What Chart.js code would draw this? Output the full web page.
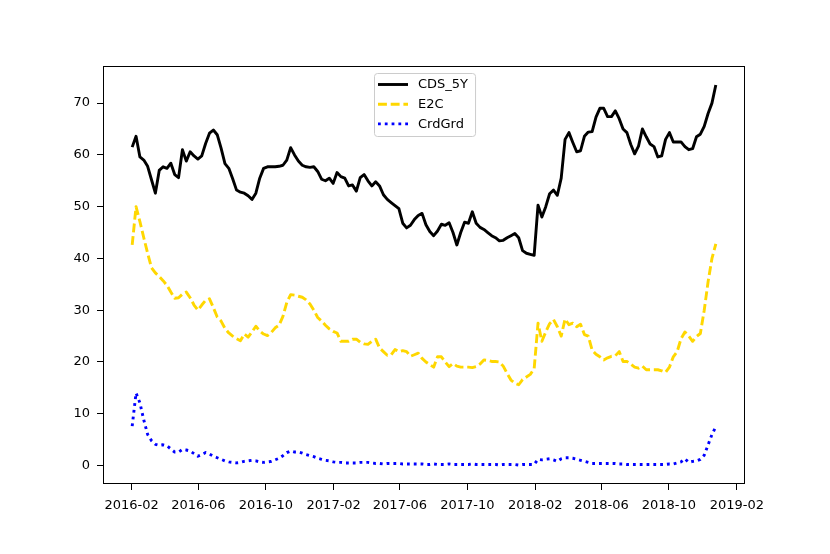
<!DOCTYPE html>
<html>
<head>
<meta charset="utf-8">
<script src="https://cdn.jsdelivr.net/npm/chart.js@4.4.1/dist/chart.umd.min.js"></script>
<style>
  html, body { margin: 0; padding: 0; background: #ffffff; }
  #chart { display: block; }
</style>
</head>
<body>
<canvas id="chart" width="830" height="554"></canvas>
<script>
// weekly observations, first one on 2016-02-02
const firstDate = "2016-02-02";
const stepDays = 7;

const cds5y = [
    61.5, 63.6, 59.6, 59.0, 57.8, 55.2, 52.6, 57.0, 57.7, 57.4,
    58.4, 56.2, 55.6, 61.0, 58.8, 60.6, 59.8, 59.2, 59.8, 62.2,
    64.2, 64.8, 63.9, 61.3, 58.3, 57.4, 55.4, 53.2, 52.8, 52.6,
    52.1, 51.4, 52.6, 55.5, 57.4, 57.7, 57.7, 57.7, 57.8, 58.0,
    59.0, 61.4, 60.0, 58.8, 58.0, 57.7, 57.6, 57.7, 56.8, 55.3,
    55.0, 55.5, 54.5, 56.6, 55.8, 55.5, 54.0, 54.2, 53.0, 55.6,
    56.2, 55.0, 54.0, 54.8, 54.0, 52.3, 51.4, 50.8, 50.2, 49.6,
    46.8, 45.9, 46.4, 47.5, 48.3, 48.7, 46.5, 45.2, 44.4, 45.3,
    46.6, 46.4, 46.9, 45.0, 42.6, 45.0, 47.0, 46.8, 49.0, 46.8,
    46.0, 45.6, 45.0, 44.4, 44.0, 43.4, 43.5, 44.0, 44.4, 44.8,
    44.0, 41.5, 41.0, 40.8, 40.6, 50.3, 48.0, 50.0, 52.5, 53.2,
    52.2, 55.5, 63.0, 64.3, 62.4, 60.6, 60.8, 63.6, 64.4, 64.5,
    67.3, 69.0, 69.0, 67.4, 67.4, 68.5, 67.0, 65.0, 64.3, 62.0,
    60.2, 61.7, 65.0, 63.5, 62.1, 61.6, 59.6, 59.8, 63.0, 64.3,
    62.5, 62.5, 62.5, 61.6, 61.0, 61.2, 63.5, 64.0, 65.5, 68.0,
    70.0, 73.5
];

const e2c = [
    42.6, 50.0, 47.1, 44.0, 41.0, 38.2, 37.2, 36.5, 35.7, 34.8,
    33.5, 32.3, 32.4, 33.1, 33.5, 32.4, 31.0, 30.0, 31.0, 31.9,
    32.2, 30.5, 28.7, 27.9, 26.5, 25.6, 25.0, 24.5, 24.1, 25.4,
    24.8, 25.8, 26.9, 26.0, 25.4, 25.1, 25.7, 26.6, 27.1, 28.8,
    31.5, 33.0, 32.9, 32.7, 32.5, 32.0, 31.2, 30.0, 28.6, 27.9,
    27.1, 26.4, 25.9, 25.6, 24.0, 24.0, 24.0, 24.4, 24.4, 23.8,
    23.5, 23.4, 24.0, 24.4, 22.7, 22.0, 21.3, 21.4, 22.4, 22.0,
    22.2, 22.0, 21.1, 21.4, 21.7, 20.7, 20.0, 19.5, 19.0, 21.0,
    21.0, 20.0, 19.1, 19.7, 19.2, 19.0, 19.0, 19.0, 18.9, 19.1,
    19.6, 20.4, 20.3, 20.1, 20.1, 20.0, 19.2, 17.8, 16.5, 15.9,
    15.6, 16.6, 17.1, 17.6, 18.7, 27.5, 24.0, 25.8, 27.4, 28.2,
    26.8, 25.0, 28.3, 27.2, 27.5, 26.8, 27.3, 25.3, 25.0, 22.3,
    21.5, 21.0, 20.4, 20.8, 21.1, 21.2, 22.0, 20.1, 20.1, 19.6,
    19.0, 18.8, 19.2, 18.5, 18.5, 18.5, 18.5, 18.3, 18.0, 19.0,
    21.0, 22.0, 24.5, 25.8, 25.0, 24.0, 24.9, 25.5, 30.0, 35.5,
    40.0, 42.8
];

const crdGrd = [
    7.6, 14.0, 12.1, 8.8, 6.0, 4.8, 4.1, 3.9, 4.0, 3.8,
    3.2, 2.6, 2.6, 3.1, 3.0, 2.8, 2.3, 1.8, 2.1, 2.5,
    2.2, 1.8, 1.5, 1.2, 0.9, 0.7, 0.6, 0.5, 0.6, 0.8,
    0.9, 1.0, 0.9, 0.7, 0.6, 0.7, 0.8, 1.1, 1.4, 1.9,
    2.5, 2.8, 2.6, 2.6, 2.4, 2.1, 1.9, 1.7, 1.4, 1.2,
    1.0, 0.9, 0.7, 0.6, 0.6, 0.5, 0.5, 0.5, 0.5, 0.6,
    0.6, 0.6, 0.5, 0.4, 0.4, 0.3, 0.4, 0.4, 0.4, 0.4,
    0.3, 0.3, 0.3, 0.3, 0.3, 0.3, 0.2, 0.2, 0.3, 0.2,
    0.2, 0.2, 0.3, 0.2, 0.2, 0.2, 0.2, 0.2, 0.3, 0.2,
    0.2, 0.2, 0.2, 0.2, 0.2, 0.1, 0.2, 0.2, 0.2, 0.2,
    0.1, 0.2, 0.2, 0.2, 0.2, 1.2, 1.1, 1.2, 1.3, 1.1,
    0.8, 1.3, 1.5, 1.5, 1.4, 1.2, 1.0, 0.8, 0.6, 0.4,
    0.4, 0.4, 0.4, 0.4, 0.4, 0.4, 0.3, 0.3, 0.2, 0.2,
    0.2, 0.2, 0.2, 0.2, 0.2, 0.2, 0.2, 0.2, 0.2, 0.3,
    0.3, 0.5, 0.7, 1.3, 0.6, 0.8, 0.9, 1.2, 2.0, 4.0,
    6.0, 7.5
];

const xTickLabels = ["2016-02", "2016-06", "2016-10", "2017-02", "2017-06",
                     "2017-10", "2018-02", "2018-06", "2018-10", "2019-02"];
const yTickValues = [0, 10, 20, 30, 40, 50, 60, 70];

// days since epoch, so the x axis can be a plain linear scale
const toDay = (s) => {
    const [y, m, d] = s.split("-").map(Number);
    return Date.UTC(y, m - 1, d || 1) / 86400000;
};

const day0 = toDay(firstDate);
const days = cds5y.map((_, i) => day0 + i * stepDays);
const points = (vals) => vals.map((v, i) => ({ x: days[i], y: v }));

// matplotlib style 5% margins
const xSpan = days[days.length - 1] - days[0];
const allVals = cds5y.concat(e2c, crdGrd);
const yLo = Math.min(...allVals), yHi = Math.max(...allVals);
const ySpan = yHi - yLo;

const FONT = "DejaVu Sans";
const FONT_SIZE = 13;
const LW = 2.9;

const spines = {
    id: "spines",
    afterDatasetsDraw(chart) {
        const { ctx, chartArea: a } = chart;
        ctx.save();
        ctx.strokeStyle = "#000";
        ctx.lineWidth = 1;
        ctx.strokeRect(Math.round(a.left) + 0.5, Math.round(a.top) + 0.5,
            Math.round(a.right - a.left) - 1, Math.round(a.bottom - a.top) - 1);
        ctx.restore();
    }
};

const insideLegend = {
    id: "insideLegend",
    afterDraw(chart) {
        const { ctx, chartArea: a } = chart;
        const sets = chart.data.datasets;
        ctx.save();
        ctx.font = FONT_SIZE + "px '" + FONT + "'";
        const textW = Math.max(...sets.map(s => ctx.measureText(s.label).width));
        const w = 4 + 30 + 10 + textW + 7;
        const h = 63;
        const x0 = Math.round((a.left + a.right) / 2 - w / 2) + 1;
        const y0 = Math.round(a.top) + 7;

        ctx.beginPath();
        ctx.roundRect(x0 + 0.5, y0 + 0.5, w, h, 3);
        ctx.fillStyle = "rgba(255,255,255,0.8)";
        ctx.fill();
        ctx.strokeStyle = "#cccccc";
        ctx.lineWidth = 1;
        ctx.stroke();

        sets.forEach((s, i) => {
            const cy = y0 + 11.5 + i * 19.7;
            ctx.beginPath();
            ctx.setLineDash(s.borderDash || []);
            ctx.lineCap = "butt";
            ctx.strokeStyle = s.borderColor;
            ctx.lineWidth = s.borderWidth;
            ctx.moveTo(x0 + 4, cy);
            ctx.lineTo(x0 + 34, cy);
            ctx.stroke();
            ctx.setLineDash([]);
            ctx.fillStyle = "#000";
            ctx.textBaseline = "middle";
            ctx.fillText(s.label, x0 + 44, cy + 0.5);
        });
        ctx.restore();
    }
};

new Chart(document.getElementById("chart"), {
    type: "line",
    data: {
        datasets: [
            {
                label: "CDS_5Y",
                data: points(cds5y),
                borderColor: "#000000",
                borderWidth: LW,
                borderJoinStyle: "round"
            },
            {
                label: "E2C",
                data: points(e2c),
                borderColor: "#FFD700",
                borderWidth: LW,
                borderDash: [8.9, 3.8],
                borderJoinStyle: "round"
            },
            {
                label: "CrdGrd",
                data: points(crdGrd),
                borderColor: "#0000FF",
                borderWidth: LW,
                borderDash: [2.8, 4.0],
                borderJoinStyle: "round"
            }
        ]
    },
    options: {
        responsive: false,
        animation: false,
        devicePixelRatio: 1,
        layout: { padding: { top: 66, right: 85, left: 0, bottom: 0 } },
        elements: {
            point: { radius: 0, hoverRadius: 0 },
            line: { tension: 0, fill: false }
        },
        plugins: {
            legend: { display: false },
            tooltip: { enabled: false }
        },
        scales: {
            x: {
                type: "linear",
                min: days[0] - 0.05 * xSpan,
                max: days[days.length - 1] + 0.05 * xSpan,
                afterBuildTicks: (axis) => {
                    axis.ticks = xTickLabels.map(l => ({ value: toDay(l) }));
                },
                afterFit: (axis) => { axis.height = 70; },
                grid: {
                    display: true,
                    drawOnChartArea: false,
                    drawTicks: true,
                    tickLength: 6,
                    tickColor: "#000",
                    tickWidth: 1
                },
                border: { display: false },
                ticks: {
                    autoSkip: false,
                    maxRotation: 0,
                    padding: 8,
                    color: "#000",
                    font: { family: FONT, size: FONT_SIZE },
                    callback: (v) => {
                        const i = xTickLabels.findIndex(l => toDay(l) === v);
                        return i >= 0 ? xTickLabels[i] : "";
                    }
                }
            },
            y: {
                type: "linear",
                min: yLo - 0.05 * ySpan,
                max: yHi + 0.05 * ySpan,
                afterBuildTicks: (axis) => {
                    axis.ticks = yTickValues.map(v => ({ value: v }));
                },
                afterFit: (axis) => { axis.width = 103; },
                grid: {
                    display: true,
                    drawOnChartArea: false,
                    drawTicks: true,
                    tickLength: 6,
                    tickColor: "#000",
                    tickWidth: 1
                },
                border: { display: false },
                ticks: {
                    padding: 7,
                    color: "#000",
                    font: { family: FONT, size: FONT_SIZE },
                    callback: (v) => String(v)
                }
            }
        }
    },
    plugins: [spines, insideLegend]
});
</script>
</body>
</html>
